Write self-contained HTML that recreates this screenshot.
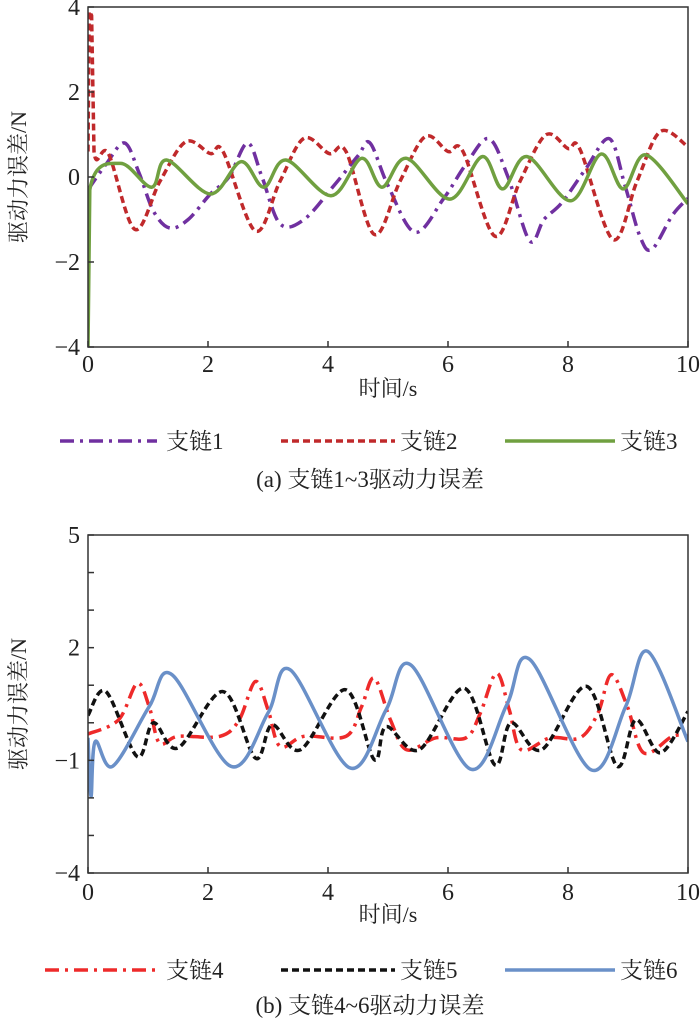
<!DOCTYPE html>
<html><head><meta charset="utf-8"><style>
body{margin:0;background:#fff}
svg text{font-family:"Liberation Serif","Noto Serif CJK SC",serif;fill:#222}
</style></head><body>
<svg id="c" width="700" height="1024" viewBox="0 0 700 1024" xmlns="http://www.w3.org/2000/svg"></svg>
<script>
// ---- Data (top chart a) ----
const tA = [0, 2, 4, 6, 8, 10];
const yTicksA = [-4, -2, 0, 2, 4];
const s1t = [0,0.3,0.61,0.85,1.09,1.36,1.67,2.04,2.35,2.66,2.9,3.2,3.6,4.1,4.5,4.7,5.0,5.45,5.93,6.3,6.68,7.0,7.36,7.6,7.9,8.3,8.69,8.95,9.2,9.4,9.74,10];
const s1v = [-0.3,0.3,0.8,0.1,-0.8,-1.2,-1.0,-0.4,0,0.8,0,-1.1,-1.0,-0.2,0.5,0.8,-0.2,-1.3,-0.5,0.3,0.9,0,-1.5,-1.0,-0.6,0.2,0.9,-0.2,-1.4,-1.7,-0.9,-0.5];
const s2t = [0,0.02,0.06,0.1,0.34,0.78,1.2,1.63,2.04,2.25,2.79,3.2,3.6,4.02,4.3,4.77,5.2,5.62,6.0,6.25,6.78,7.2,7.63,8.0,8.2,8.75,9.15,9.54,10];
const s2v = [0.6,3.9,3.8,0.6,0.55,-1.23,-0.1,0.83,0.55,0.6,-1.27,-0.1,0.91,0.55,0.6,-1.35,-0.1,0.95,0.6,0.6,-1.39,-0.1,0.99,0.67,0.65,-1.47,-0.1,1.07,0.71];
const s3t = [0,0.03,0.54,1.06,1.31,2.04,2.55,2.93,3.3,4.05,4.56,4.9,5.31,6.03,6.57,6.91,7.32,8.04,8.55,8.92,9.3,10];
const s3v = [-4,-0.3,0.32,-0.24,0.4,-0.4,0.36,-0.24,0.4,-0.44,0.44,-0.24,0.44,-0.52,0.48,-0.28,0.48,-0.56,0.54,-0.28,0.52,-0.63];
// ---- Data (bottom chart b) ----
const yTicksB = [-4, -1, 2, 5];
const s4t = [0,0.51,0.82,1.02,1.19,1.5,2.2,2.52,2.79,3.0,3.2,3.6,4.3,4.56,4.77,5.04,5.31,5.8,6.3,6.54,6.81,7.02,7.22,7.7,8.2,8.5,8.72,8.99,9.26,9.74,10];
const s4v = [-0.3,0.08,1.05,0.43,-0.54,-0.36,-0.36,0.08,1.1,0.35,-0.63,-0.36,-0.36,0.43,1.19,0.08,-0.72,-0.4,-0.4,0.26,1.32,0.35,-0.72,-0.4,-0.4,0.26,1.28,0.43,-0.8,-0.36,-0.36];
const s5t = [0,0.3,0.82,1.09,1.5,2.25,2.79,3.07,3.54,4.29,4.77,4.97,5.52,6.27,6.78,7.05,7.56,8.31,8.82,9.13,9.54,10];
const s5v = [0.2,0.83,-0.9,0,-0.67,0.83,-0.94,-0.05,-0.72,0.88,-0.98,-0.1,-0.72,0.92,-1.12,0,-0.72,0.97,-1.16,0.08,-0.8,0.3];
const s6t = [0,0.05,0.12,0.41,1.02,1.4,2.38,3.0,3.37,4.36,4.97,5.38,6.37,6.98,7.36,8.38,8.96,9.33,10];
const s6v = [-0.4,-1.96,-0.5,-1.16,0.43,1.28,-1.16,0.26,1.41,-1.2,0.35,1.54,-1.23,0.48,1.69,-1.25,0.43,1.9,-0.5];

const NS="http://www.w3.org/2000/svg";
const svg=document.getElementById('c');
function mk(tag,attrs,parent){const e=document.createElementNS(NS,tag);for(const k in attrs)e.setAttribute(k,attrs[k]);(parent||svg).appendChild(e);return e;}
function path(ts,vs,X,Y){
  const p=ts.map((t,i)=>[X(t),Y(vs[i])]);
  let d='M'+p[0][0].toFixed(1)+','+p[0][1].toFixed(1);
  for(let i=0;i<p.length-1;i++){
    const p0=p[Math.max(0,i-1)],p1=p[i],p2=p[i+1],p3=p[Math.min(p.length-1,i+2)];
    const k=(p2[0]-p1[0])<3?0:1/6;
    const c1=[p1[0]+(p2[0]-p0[0])*k,p1[1]+(p2[1]-p0[1])*k];
    const c2=[p2[0]-(p3[0]-p1[0])*k,p2[1]-(p3[1]-p1[1])*k];
    d+=' C'+c1.map(v=>v.toFixed(1))+' '+c2.map(v=>v.toFixed(1))+' '+p2[0].toFixed(1)+','+p2[1].toFixed(1);
  }
  return d;
}
function panel(cfg){
  const {x0,x1,yT,yB,vMin,vMax,yTicks,minor,series,legY,capY,xlabY,tickY,cap,leg,prefix}=cfg;
  const X=t=>x0+(t/10)*(x1-x0);
  const Y=v=>yB-(v-vMin)/(vMax-vMin)*(yB-yT);
  const g=mk('g',{});
  
  
  const clip=mk('clipPath',{id:prefix+'clip'},g);
  mk('rect',{x:x0,y:yT-2,width:x1-x0,height:yB-yT+4},clip);
  series.forEach(s=>{
    const el=mk('path',{d:path(s.t,s.v,X,Y),fill:'none',stroke:s.c,'stroke-width':3.5,'stroke-dasharray':s.da||'none','clip-path':'url(#'+prefix+'clip)','stroke-linejoin':'round'},g);
    
    
  });
  const fr=mk('rect',{x:x0,y:yT,width:x1-x0,height:yB-yT,fill:'none',stroke:'#333','stroke-width':1.5},g);
  
  
  tA.forEach(t=>{
    mk('line',{x1:X(t),x2:X(t),y1:yB,y2:yB-6,stroke:'#333','stroke-width':1.5},g);
    const tx=mk('text',{x:X(t),y:tickY,'font-size':24,'text-anchor':'middle'},g);tx.textContent=t;
    
    
  });
  for(let v=vMin;v<=vMax;v+=minor){
    mk('line',{x1:x0,x2:x0+6,y1:Y(v),y2:Y(v),stroke:'#333','stroke-width':1.5},g);
  }
  yTicks.forEach(v=>{
    const tx=mk('text',{x:x0-8,y:Y(v)+8,'font-size':24,'text-anchor':'end'},g);tx.textContent=v<0?'\u2212'+(-v):v;
    
    
  });
  const yl=mk('text',{x:0,y:0,'font-size':22,'text-anchor':'middle',transform:'translate(26,'+((yT+yB)/2)+') rotate(-90)'},g);
  yl.textContent='驱动力误差/N';
  
  
  const xl=mk('text',{x:(x0+x1)/2,y:xlabY,'font-size':22,'text-anchor':'middle'},g);
  xl.textContent='时间/s';
  
  
  leg.forEach((l,i)=>{
    const s=series[i];
    const lg=mk('g',{},g);
    
    
    mk('line',{x1:l[0],x2:l[1],y1:legY,y2:legY,stroke:s.c,'stroke-width':3.5,'stroke-dasharray':s.da||'none'},lg);
    const tx=mk('text',{x:l[2],y:legY+8,'font-size':23},lg);tx.textContent=s.label;
  });
  const c=mk('text',{x:370,y:capY,'font-size':23,'text-anchor':'middle'},g);
  c.textContent=cap;
  
  
}
panel({prefix:'a',x0:88,x1:688,yT:7,yB:347,vMin:-4,vMax:4,yTicks:yTicksA,minor:2,
  tickY:372,xlabY:396,legY:441,capY:487,cap:'(a) 支链1~3驱动力误差',
  leg:[[60,157,166],[281,395,400],[505,615,620]],
  series:[{name:'series-branch1',label:'支链1',t:s1t,v:s1v,c:'#7030a0',da:'14,6,3,6'},
          {name:'series-branch2',label:'支链2',t:s2t,v:s2v,c:'#c0292b',da:'7,4'},
          {name:'series-branch3',label:'支链3',t:s3t,v:s3v,c:'#70a040'}]});
panel({prefix:'b',x0:88,x1:688,yT:535,yB:873,vMin:-4,vMax:5,yTicks:yTicksB,minor:1,
  tickY:900,xlabY:922,legY:970,capY:1013,cap:'(b) 支链4~6驱动力误差',
  leg:[[45,157,166],[281,395,400],[505,615,620]],
  series:[{name:'series-branch4',label:'支链4',t:s4t,v:s4v,c:'#ee2a2a',da:'14,6,3,6'},
          {name:'series-branch5',label:'支链5',t:s5t,v:s5v,c:'#111',da:'7,4'},
          {name:'series-branch6',label:'支链6',t:s6t,v:s6v,c:'#6a90c8'}]});
</script>
</body></html>
